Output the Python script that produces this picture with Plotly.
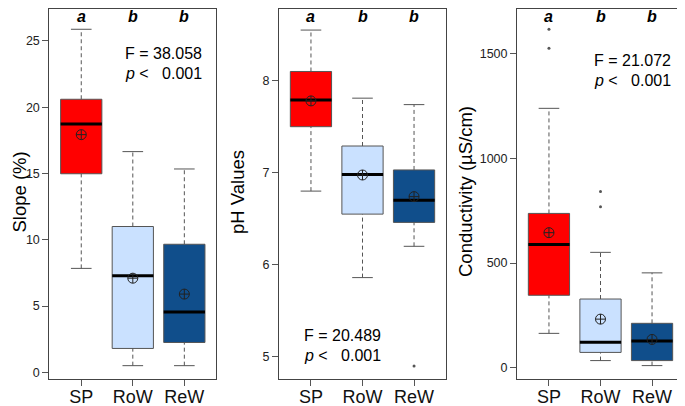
import plotly.graph_objects as go

groups = ["SP", "RoW", "ReW"]
colors = ["#FF0000", "#CAE1FF", "#104E8B"]
letters = ["a", "b", "b"]

slope_lower = [7.84, 0.5, 0.5]
slope_q1 = [14.98, 1.8, 2.25]
slope_median = [18.74, 7.29, 4.55]
slope_q3 = [20.6, 11.0, 9.66]
slope_upper = [25.88, 16.65, 15.34]
slope_mean = [17.93, 7.1, 5.9]
slope_outliers = [[], [], []]

ph_lower = [6.80, 5.86, 6.20]
ph_q1 = [7.50, 6.55, 6.46]
ph_median = [7.79, 6.98, 6.70]
ph_q3 = [8.10, 7.29, 7.03]
ph_upper = [8.55, 7.81, 7.74]
ph_mean = [7.78, 6.975, 6.74]
ph_outliers = [[], [], [4.90]]

cond_lower = [164, 34, 10]
cond_q1 = [346, 73, 34]
cond_median = [589, 121, 127]
cond_q3 = [737, 328, 212]
cond_upper = [1239, 551, 453]
cond_mean = [645, 232, 135]
cond_outliers = [[1526, 1617], [769, 842], []]

panels = [
    dict(lower=slope_lower, q1=slope_q1, med=slope_median, q3=slope_q3, upper=slope_upper,
         mean=slope_mean, out=slope_outliers, title="Slope (%)", yr=[-0.506, 27.41],
         ticks=[0, 5, 10, 15, 20, 25], F="F = 38.058", fpos=(123, 54), titlex=18.5),
    dict(lower=ph_lower, q1=ph_q1, med=ph_median, q3=ph_q3, upper=ph_upper,
         mean=ph_mean, out=ph_outliers, title="pH Values", yr=[4.758, 8.779],
         ticks=[5, 6, 7, 8], F="F = 20.489", fpos=(302, 335), titlex=237),
    dict(lower=cond_lower, q1=cond_q1, med=cond_median, q3=cond_q3, upper=cond_upper,
         mean=cond_mean, out=cond_outliers, title="Conductivity (µS/cm)", yr=[-54, 1713.5],
         ticks=[0, 500, 1000, 1500], F="F = 21.072", fpos=(592, 60), titlex=465),
]

# page layout (the page body adds an 8px margin, so the figure is drawn 8px in)
PAGE_W, PAGE_H = 685, 406
OX, OY = 8, 8
W, H = PAGE_W - OX, PAGE_H - OY


def fx(rx):
    return (rx - OX) / W


def fy(ry):
    return 1 - (ry - OY) / H


xdom_px = [(49.3, 216.3), (279, 446), (517, 684)]
ytop_px, ybot_px = 9, 379
FONT = "Liberation Sans, Arial, sans-serif"
EDGE = "#555555"

fig = go.Figure()
xs = [1, 2, 3]
annotations = []

for k, p in enumerate(panels):
    sfx = "" if k == 0 else str(k + 1)
    xa, ya = "x" + sfx, "y" + sfx
    # box bodies
    fig.add_trace(go.Bar(x=xs, y=[b - a for a, b in zip(p["q1"], p["q3"])], base=p["q1"],
                         width=0.8, marker=dict(color=colors, line=dict(color=EDGE, width=1)),
                         xaxis=xa, yaxis=ya, showlegend=False, hoverinfo="skip"))
    # whiskers (dashed)
    wx, wy = [], []
    for i, x in enumerate(xs):
        wx += [x, x, None, x, x, None]
        wy += [p["q3"][i], p["upper"][i], None, p["lower"][i], p["q1"][i], None]
    fig.add_trace(go.Scatter(x=wx, y=wy, mode="lines", line=dict(color=EDGE, width=1, dash="4px,3px"),
                             xaxis=xa, yaxis=ya, showlegend=False, hoverinfo="skip"))
    # caps
    cx, cy = [], []
    for i, x in enumerate(xs):
        cx += [x - 0.2, x + 0.2, None, x - 0.2, x + 0.2, None]
        cy += [p["upper"][i], p["upper"][i], None, p["lower"][i], p["lower"][i], None]
    fig.add_trace(go.Scatter(x=cx, y=cy, mode="lines", line=dict(color=EDGE, width=1),
                             xaxis=xa, yaxis=ya, showlegend=False, hoverinfo="skip"))
    # medians
    mx, my = [], []
    for i, x in enumerate(xs):
        mx += [x - 0.4, x + 0.4, None]
        my += [p["med"][i], p["med"][i], None]
    fig.add_trace(go.Scatter(x=mx, y=my, mode="lines", line=dict(color="black", width=3),
                             xaxis=xa, yaxis=ya, showlegend=False, hoverinfo="skip"))
    # means
    fig.add_trace(go.Scatter(x=xs, y=p["mean"], mode="markers",
                             marker=dict(symbol="circle-cross-open", size=10, color="#222222",
                                         line=dict(width=1)),
                             xaxis=xa, yaxis=ya, showlegend=False, hoverinfo="skip"))
    # outliers
    ox, oy = [], []
    for i, x in enumerate(xs):
        for v in p["out"][i]:
            ox.append(x)
            oy.append(v)
    if ox:
        fig.add_trace(go.Scatter(x=ox, y=oy, mode="markers",
                                 marker=dict(symbol="circle", size=3, color="#555555"),
                                 xaxis=xa, yaxis=ya, showlegend=False, hoverinfo="skip"))

    x0, x1 = xdom_px[k]
    fig.update_layout(**{
        "xaxis" + sfx: dict(domain=[fx(x0), fx(x1)], range=[0.38, 3.62], anchor=ya,
                            tickvals=xs, ticktext=groups, ticks="outside", ticklen=6,
                            automargin=False, ticklabelstandoff=-5,
                            tickcolor=EDGE, showline=True, mirror=True, linecolor="#444444",
                            linewidth=1, showgrid=False, zeroline=False,
                            tickfont=dict(size=18, color="#111111", family=FONT)),
        "yaxis" + sfx: dict(domain=[fy(ybot_px), fy(ytop_px)], range=p["yr"], anchor=xa,
                            tickvals=p["ticks"], ticks="outside", ticklen=6, tickcolor=EDGE,
                            automargin=False,
                            showline=True, mirror=True, linecolor="#444444", linewidth=1,
                            showgrid=False, zeroline=False,
                            tickfont=dict(size=12.5, color="#222222", family=FONT)),
    })
    # significance letters
    for i, x in enumerate(xs):
        annotations.append(dict(x=x, y=fy(16.5), xref=xa, yref="paper", text="<b><i>" + letters[i] + "</i></b>",
                                showarrow=False, font=dict(size=16, color="black", family=FONT),
                                xanchor="center", yanchor="middle"))
    # F and p text
    tx, ty = p["fpos"]
    annotations.append(dict(x=fx(tx), y=fy(ty), xref="paper", yref="paper", text=p["F"],
                            showarrow=False, font=dict(size=16, color="black", family=FONT),
                            xanchor="left", yanchor="middle"))
    annotations.append(dict(x=fx(tx), y=fy(ty + 20), xref="paper", yref="paper",
                            text="<i>p</i> <\u00a0\u00a0\u00a00.001",
                            showarrow=False, font=dict(size=16, color="black", family=FONT),
                            xanchor="left", yanchor="middle"))
    # y title
    annotations.append(dict(x=fx(p["titlex"]), y=fy(192), xref="paper", yref="paper", text=p["title"],
                            textangle=-90, showarrow=False, font=dict(size=18.5, color="black", family=FONT),
                            xanchor="center", yanchor="middle"))

fig.update_layout(width=W, height=H, margin=dict(l=0, r=0, t=0, b=0, autoexpand=False),
                  paper_bgcolor="white", plot_bgcolor="white", annotations=annotations,
                  font=dict(family=FONT))
fig.write_html("out.html")
